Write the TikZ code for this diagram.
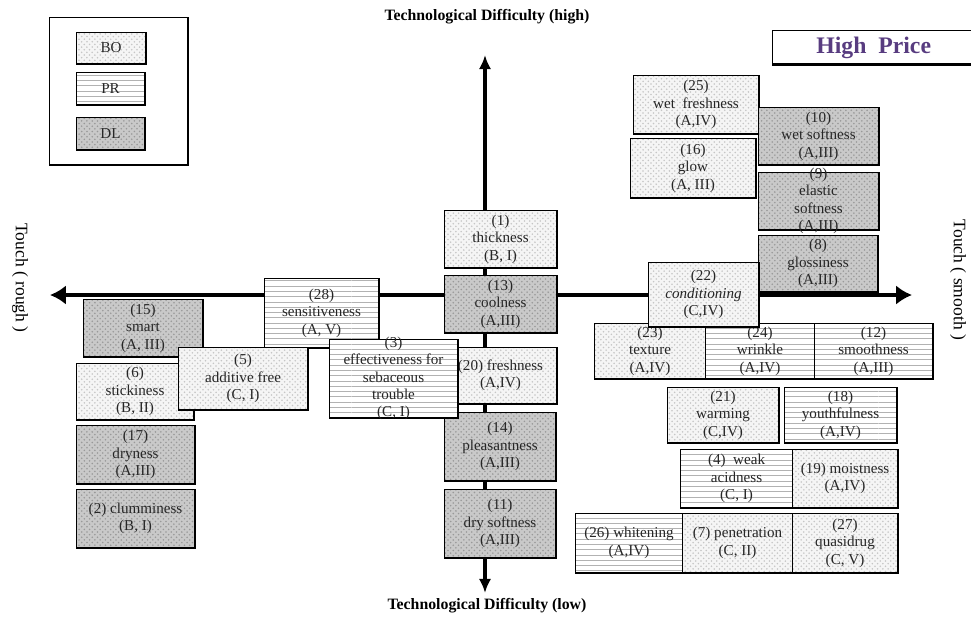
\documentclass[tikz,border=0pt]{standalone}
\usepackage{fontspec}
\setmainfont{Liberation Serif}
\usetikzlibrary{positioning, arrows.meta, patterns}
\definecolor{priceviolet}{RGB}{88,60,128}

\begin{document}
\begin{tikzpicture}[
    x=0.02cm, y=-0.02cm,
    box/.style={anchor=north west, draw, line width=0.6pt, align=center, inner sep=1pt,
                font=\fontsize{8.6}{9.9}\selectfont, text=black!85,
                append after command={\pgfextra{\draw[line width=1.3pt]
                    (\tikzlastnode.north east) -- (\tikzlastnode.south east) -- (\tikzlastnode.south west);}}},
    sz/.style 2 args={minimum width=#1*0.02cm, minimum height=#2*0.02cm},
    bo/.style={box, preaction={fill=gray!8}, preaction={pattern=crosshatch dots, pattern color=gray!45}},
    pr/.style={box, preaction={fill=white}, preaction={pattern=horizontal lines, pattern color=gray!60}},
    dl/.style={box, preaction={fill=gray!42}, preaction={pattern=crosshatch dots, pattern color=gray!80}},
    boxtext/.style={align=center, inner sep=0pt, font=\fontsize{8.6}{9.9}\selectfont, text=black!85},
    axis/.style={line width=2.2pt},
    axislabel/.style={font=\fontsize{9}{10}\selectfont\bfseries},
    touchlabel/.style={font=\fontsize{10}{11}\selectfont, rotate=-90},
]
\useasboundingbox (0,0) rectangle (971,619);

% axes
\coordinate (top) at (485,55);
\coordinate (bot) at (485,593);
\coordinate (lft) at (50,295);
\coordinate (rgt) at (912,295);
\coordinate (org) at (485,295);
\draw[axis, -{Latex[length=8pt, width=7pt]}] (org) -- (top);
\draw[axis, -{Latex[length=8pt, width=7pt]}] (org) -- (bot);
\draw[axis, -{Latex[length=9pt, width=11pt]}] (org) -- (lft);
\draw[axis, -{Latex[length=9pt, width=11pt]}] (org) -- (rgt);

\node[axislabel] (thigh) at (487,17) {Technological Difficulty (high)};
\node[axislabel] (tlow) at (487,606) {Technological Difficulty (low)};
\node[touchlabel] (rough) at (20,278) {Touch ( rough )};
\node[touchlabel] (smooth) at (958,280) {Touch ( smooth )};

% legend
\node[draw, line width=0.6pt, anchor=north west, sz={138}{147},
      append after command={\pgfextra{\draw[line width=1.3pt]
          (\tikzlastnode.north east) -- (\tikzlastnode.south east) -- (\tikzlastnode.south west);}}]
      (legend) at (49,17) {};
\node[bo, sz={69}{31}] (lbo) at (76,32) {BO};
\node[pr, sz={68}{32}] (lpr) at (76,72) {PR};
\node[dl, sz={68}{32}] (ldl) at (76,117) {DL};

% price tag
\node[draw, line width=0.8pt, anchor=north west, sz={202}{33}, text=priceviolet,
      font=\fontsize{13.5}{14}\selectfont\bfseries,
      append after command={\pgfextra{\draw[line width=1.6pt]
          (\tikzlastnode.north east) -- (\tikzlastnode.south east) -- (\tikzlastnode.south west);}}]
      (price) at (772,30) {High\ \ Price};

% smooth side, high difficulty
\node[bo, sz={125}{58}] (b25) at (633,75) {(25)\\wet\ \ freshness\\(A,IV)};
\node[dl, sz={120}{57}] (b10) at (758,107) {(10)\\wet softness\\(A,III)};
\node[bo, sz={125}{59}] (b16) at (630,138) {(16)\\glow\\(A, III)};
\node[dl, sz={120}{57}] (b9) at (758,172) {};
\node[boxtext] at (b9.center) {(9)\\elastic\\softness\\(A,III)};
\node[dl, sz={119}{56}] (b8) at (758,235) {(8)\\glossiness\\(A,III)};

% smooth side, low difficulty
\node[bo, sz={111}{55}] (b23) at (594,323) {(23)\\texture\\(A,IV)};
\node[pr, sz={109}{55}] (b24) at (705,323) {(24)\\wrinkle\\(A,IV)};
\node[pr, sz={118}{55}] (b12) at (814,323) {(12)\\smoothness\\(A,III)};
\node[bo, sz={110}{64}] (b22) at (648,262) {(22)\\\textit{conditioning}\\(C,IV)};
\node[bo, sz={111}{55}] (b21) at (667,387) {(21)\\warming\\(C,IV)};
\node[pr, sz={112}{55}] (b18) at (784,387) {(18)\\youthfulness\\(A,IV)};
\node[pr, sz={112}{58}] (b4) at (680,449) {(4)\ \ weak\\acidness\\(C, I)};
\node[bo, sz={105}{58}] (b19) at (792,449) {(19) moistness\\(A,IV)};
\node[pr, sz={107}{59}] (b26) at (575,513) {(26) whitening\\(A,IV)};
\node[bo, sz={110}{59}] (b7) at (682,513) {(7) penetration\\(C, II)};
\node[bo, sz={105}{59}] (b27) at (792,513) {(27)\\quasidrug\\(C, V)};

% centre column
\node[bo, sz={112}{57}] (b1) at (444,210) {(1)\\thickness\\(B, I)};
\node[dl, sz={112}{57}] (b13) at (444,275) {(13)\\coolness\\(A,III)};
\node[bo, sz={112}{56}] (b20) at (444,347) {(20) freshness\\(A,IV)};
\node[dl, sz={111}{68}] (b14) at (444,412) {(14)\\pleasantness\\(A,III)};
\node[dl, sz={111}{68}] (b11) at (444,489) {(11)\\dry softness\\(A,III)};

% rough side
\node[pr, sz={114}{69}] (b28) at (264,278) {(28)\\sensitiveness\\(A, V)};
\node[pr, sz={128}{78}] (b3) at (329,339) {};
\node[boxtext] at (b3.center) {(3)\\effectiveness for\\sebaceous\\trouble\\(C, I)};
\node[dl, sz={119}{57}] (b15) at (83,299) {(15)\\smart\\(A, III)};
\node[bo, sz={117}{56}] (b6) at (76,363) {(6)\\stickiness\\(B, II)};
\node[bo, sz={129}{62}] (b5) at (178,347) {(5)\\additive free\\(C, I)};
\node[dl, sz={118}{58}] (b17) at (76,425) {(17)\\dryness\\(A,III)};
\node[dl, sz={118}{58}] (b2) at (76,489) {(2) clumminess\\(B, I)};

\end{tikzpicture}
\end{document}
